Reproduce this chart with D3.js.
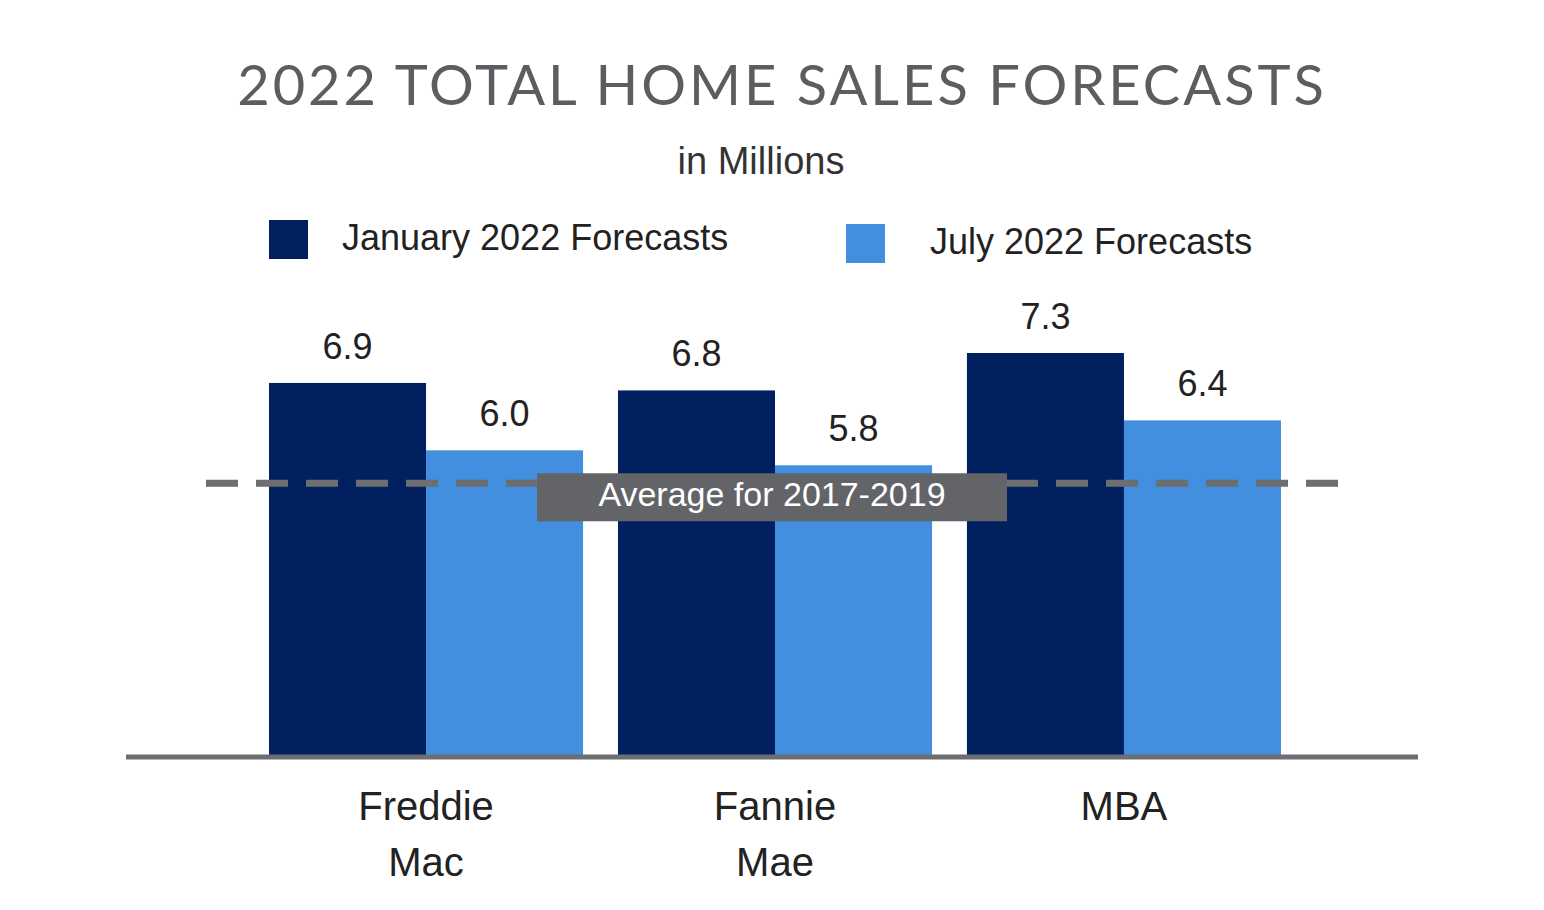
<!DOCTYPE html>
<html>
<head>
<meta charset="UTF-8">
<script src="https://d3js.org/d3.v7.min.js"></script>
<style>
  body { margin: 0; background: #fff; font-family: "Helvetica Neue", "Liberation Sans", Arial, sans-serif; }
</style>
</head>
<body>
<svg width="1544" height="910"></svg>
<script>
const categories = [["Freddie", "Mac"], ["Fannie", "Mae"], ["MBA"]];
const seriesNames = ["January 2022 Forecasts", "July 2022 Forecasts"];
const january = [6.9, 6.8, 7.3];
const july = [6.0, 5.8, 6.4];
const average = 5.56;
const colors = ["#002060", "#418fde"];

const svg = d3.select("svg");

svg.append("text").attr("x", 782).attr("y", 105).attr("text-anchor", "middle")
  .attr("font-size", 56).attr("fill", "#5c5d60").attr("letter-spacing", 3)
  .attr("font-family", "Lato, sans-serif")
  .text("2022 TOTAL HOME SALES FORECASTS");
svg.append("text").attr("x", 761).attr("y", 174).attr("text-anchor", "middle")
  .attr("font-size", 38).attr("fill", "#333").text("in Millions");

// legend
const legendPos = [{x: 269, y: 220, tx: 342}, {x: 846, y: 224, tx: 930}];
seriesNames.forEach((n, i) => {
  const p = legendPos[i];
  svg.append("rect").attr("x", p.x).attr("y", p.y).attr("width", 39).attr("height", 39).attr("fill", colors[i]);
  svg.append("text").attr("x", p.tx).attr("y", p.y + 20).attr("dominant-baseline", "middle")
    .attr("font-size", 36).attr("fill", "#222").text(n);
});

const x = d3.scaleBand().domain(d3.range(categories.length)).range([269, 1281]).paddingInner(0.1).paddingOuter(0);
const x1 = d3.scaleBand().domain([0, 1]).range([0, x.bandwidth()]);
const y = d3.scaleLinear().domain([1.93, 7.3]).range([755, 353]);

const data = categories.map((c, i) => [january[i], july[i]]);
const g = svg.selectAll("g.grp").data(data).enter().append("g")
  .attr("transform", (d, i) => `translate(${x(i)},0)`);
g.selectAll("rect").data(d => d).enter().append("rect")
  .attr("x", (d, j) => x1(j)).attr("y", d => y(d))
  .attr("width", x1.bandwidth()).attr("height", d => y.range()[0] - y(d))
  .attr("fill", (d, j) => colors[j]);
g.selectAll("text").data(d => d).enter().append("text")
  .attr("x", (d, j) => x1(j) + x1.bandwidth() / 2).attr("y", d => y(d) - 24)
  .attr("text-anchor", "middle").attr("font-size", 36).attr("fill", "#222")
  .text(d => d.toFixed(1));

// axis line
svg.append("line").attr("x1", 126).attr("x2", 1418).attr("y1", 757).attr("y2", 757)
  .attr("stroke", "#6d6e71").attr("stroke-width", 5);

// category labels
categories.forEach((c, i) => {
  c.forEach((t, k) => {
    svg.append("text").attr("x", x(i) + x.bandwidth() / 2).attr("y", 820 + k * 56)
      .attr("text-anchor", "middle").attr("font-size", 40).attr("fill", "#222").text(t);
  });
});

// average line
svg.append("line").attr("x1", 206).attr("x2", 1338).attr("y1", y(average)).attr("y2", y(average))
  .attr("stroke", "#6d6e71").attr("stroke-width", 7).attr("stroke-dasharray", "32 18");
svg.append("rect").attr("x", 537).attr("y", y(average) - 10).attr("width", 470).attr("height", 48).attr("fill", "#636467");
svg.append("text").attr("x", 772).attr("y", y(average) + 14).attr("text-anchor", "middle")
  .attr("dominant-baseline", "middle").attr("font-size", 34).attr("fill", "#fff").text("Average for 2017-2019");
</script>
</body>
</html>
